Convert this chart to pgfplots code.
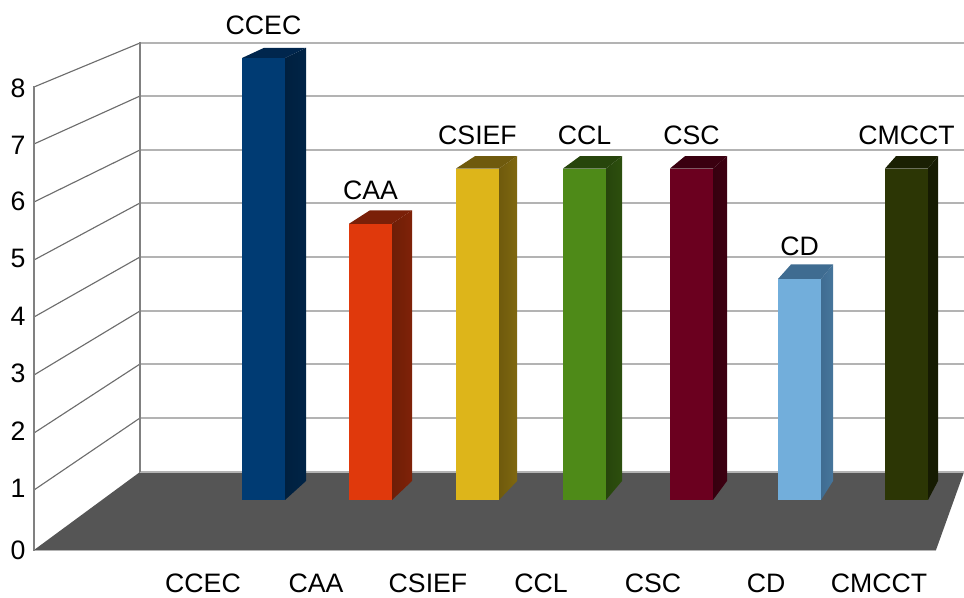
\documentclass[border=0pt]{standalone}
\usepackage{fontspec}
\setmainfont{Liberation Sans}
\usepackage{pgfplots}
\pgfplotsset{compat=1.18}

\definecolor{floorgray}{HTML}{555555}
\definecolor{gridgray}{HTML}{B3B3B3}
\definecolor{wallgray}{HTML}{808080}
\definecolor{ccecF}{HTML}{003B73}
\definecolor{ccecT}{HTML}{00264D}
\definecolor{ccecS}{HTML}{00203F}
\definecolor{caaF}{HTML}{E0390C}
\definecolor{caaT}{HTML}{7A2008}
\definecolor{caaS}{HTML}{6E1E07}
\definecolor{csiefF}{HTML}{DDB51A}
\definecolor{csiefT}{HTML}{6F5A0D}
\definecolor{csiefS}{HTML}{6F5A0D}
\definecolor{cclF}{HTML}{4E8A18}
\definecolor{cclT}{HTML}{27450C}
\definecolor{cclS}{HTML}{27450C}
\definecolor{cscF}{HTML}{6B001F}
\definecolor{cscT}{HTML}{3A0010}
\definecolor{cscS}{HTML}{36000F}
\definecolor{cdF}{HTML}{72AEDB}
\definecolor{cdT}{HTML}{3F6C91}
\definecolor{cdS}{HTML}{3F6C91}
\definecolor{cmcctF}{HTML}{2C3605}
\definecolor{cmcctT}{HTML}{1A2003}
\definecolor{cmcctS}{HTML}{161B02}

\pgfplotsset{
    base/.style={
        scale only axis,
        width=723pt,
        height=447.75pt,
        xmin=0, xmax=964,
        clip=false,
    },
}

\begin{document}
\begin{tikzpicture}
    \useasboundingbox (0,0) rectangle (723pt,447.75pt);

    % walls, floor and tick labels: y is in pixels from the top
    \begin{axis}[
            base,
            ymin=0, ymax=597,
            y dir=reverse,
            axis line style={draw=none},
            major tick length=0pt,
            xtick={203,316,428,541,653,766,879},
            xticklabels={CCEC,CAA,CSIEF,CCL,CSC,CD,CMCCT},
            xticklabel pos=lower,
            xticklabel style={anchor=center, inner sep=0pt, yshift=10pt},
            ytick={87,144,200,257,315,372,430,487,549},
            yticklabels={8,7,6,5,4,3,2,1,0},
            yticklabel style={anchor=center, xshift=13.5pt, yshift=-1pt},
            /pgf/number format/assume math mode=true,
            tick label style={font=\fontsize{20}{23}\selectfont},
        ]
        \addplot[fill=floorgray, draw=none] coordinates {(34,550) (140,472) (964,472) (936,550)} -- cycle;
        \addplot[gridgray, line width=1.2pt] coordinates {(34,550.5) (936,550.5)};
        % back wall
        \addplot[gridgray, line width=0.9pt] coordinates {(140,43) (964,43)};
        \addplot[gridgray, line width=0.9pt] coordinates {(140,96) (964,96)};
        \addplot[gridgray, line width=0.9pt] coordinates {(140,150) (964,150)};
        \addplot[gridgray, line width=0.9pt] coordinates {(140,203) (964,203)};
        \addplot[gridgray, line width=0.9pt] coordinates {(140,257) (964,257)};
        \addplot[gridgray, line width=0.9pt] coordinates {(140,311) (964,311)};
        \addplot[gridgray, line width=0.9pt] coordinates {(140,364) (964,364)};
        \addplot[gridgray, line width=0.9pt] coordinates {(140,418) (964,418)};
        \addplot[gridgray, line width=0.9pt] coordinates {(140,472) (964,472)};
        % side wall
        \addplot[wallgray!85!black, line width=0.85pt] coordinates {(34,87) (140,43)};
        \addplot[wallgray!85!black, line width=0.85pt] coordinates {(34,144) (140,96)};
        \addplot[wallgray!85!black, line width=0.85pt] coordinates {(34,202) (140,150)};
        \addplot[wallgray!85!black, line width=0.85pt] coordinates {(34,260) (140,203)};
        \addplot[wallgray!85!black, line width=0.85pt] coordinates {(34,317) (140,257)};
        \addplot[wallgray!85!black, line width=0.85pt] coordinates {(34,375) (140,311)};
        \addplot[wallgray!85!black, line width=0.85pt] coordinates {(34,433) (140,364)};
        \addplot[wallgray!85!black, line width=0.85pt] coordinates {(34,490) (140,418)};
        \addplot[wallgray, line width=1.7pt] coordinates {(34,86) (34,551)};
        \addplot[wallgray, line width=1.7pt] coordinates {(140,42) (140,472)};
    \end{axis}

    % bars: y is the value, x in pixels
    \begin{axis}[
            base,
            ymin=-1.7557, ymax=9.0498,
            hide axis,
            ybar,
            bar width=32.25pt,
            bar shift=0pt,
            nodes near coords,
            point meta=explicit symbolic,
            nodes near coords style={anchor=center, yshift=24.75pt, font=\fontsize{20}{23}\selectfont},
        ]
        % side and top faces
        \addplot[left color=ccecS, right color=ccecS!85!ccecF, draw=none, nodes near coords={}, sharp plot] coordinates {(285,0) (285,8) (306,8.184) (306,0.344)} -- cycle;
        \addplot[fill=ccecT, draw=none, nodes near coords={}, sharp plot] coordinates {(242,8) (285,8) (306,8.184) (264,8.184)} -- cycle;
        \addplot[left color=caaS, right color=caaS!85!caaF, draw=none, nodes near coords={}, sharp plot] coordinates {(392,0) (392,5) (412,5.244) (412,0.344)} -- cycle;
        \addplot[fill=caaT, draw=none, nodes near coords={}, sharp plot] coordinates {(349,5) (392,5) (412,5.244) (370,5.244)} -- cycle;
        \addplot[left color=csiefS, right color=csiefS!85!csiefF, draw=none, nodes near coords={}, sharp plot] coordinates {(499,0) (499,6) (517,6.224) (517,0.344)} -- cycle;
        \addplot[fill=csiefT, draw=none, nodes near coords={}, sharp plot] coordinates {(456,6) (499,6) (517,6.224) (475,6.224)} -- cycle;
        \addplot[left color=cclS, right color=cclS!85!cclF, draw=none, nodes near coords={}, sharp plot] coordinates {(606,0) (606,6) (622,6.224) (622,0.344)} -- cycle;
        \addplot[fill=cclT, draw=none, nodes near coords={}, sharp plot] coordinates {(563,6) (606,6) (622,6.224) (580,6.224)} -- cycle;
        \addplot[left color=cscS, right color=cscS!85!cscF, draw=none, nodes near coords={}, sharp plot] coordinates {(713,0) (713,6) (727,6.224) (727,0.344)} -- cycle;
        \addplot[fill=cscT, draw=none, nodes near coords={}, sharp plot] coordinates {(670,6) (713,6) (727,6.224) (685,6.224)} -- cycle;
        \addplot[left color=cdS, right color=cdS!85!cdF, draw=none, nodes near coords={}, sharp plot] coordinates {(821,0) (821,4) (833,4.264) (833,0.344)} -- cycle;
        \addplot[fill=cdT, draw=none, nodes near coords={}, sharp plot] coordinates {(778,4) (821,4) (833,4.264) (791,4.264)} -- cycle;
        \addplot[fill=cmcctS, draw=none, nodes near coords={}, sharp plot] coordinates {(928,0) (928,6) (938,6.224) (938,0.344)} -- cycle;
        \addplot[fill=cmcctT, draw=none, nodes near coords={}, sharp plot] coordinates {(885,6) (928,6) (938,6.224) (896,6.224)} -- cycle;
        % front faces with the labels
        \addplot[fill=ccecF, draw=none] coordinates {(263.5,8) [CCEC]};
        \addplot[fill=caaF, draw=none] coordinates {(370.5,5) [CAA]};
        \addplot[fill=csiefF, draw=none] coordinates {(477.5,6) [CSIEF]};
        \addplot[fill=cclF, draw=none] coordinates {(584.5,6) [CCL]};
        \addplot[fill=cscF, draw=none] coordinates {(691.5,6) [CSC]};
        \addplot[fill=cdF, draw=none] coordinates {(799.5,4) [CD]};
        \addplot[fill=cmcctF, draw=none] coordinates {(906.5,6) [CMCCT]};
    \end{axis}
\end{tikzpicture}
\end{document}
